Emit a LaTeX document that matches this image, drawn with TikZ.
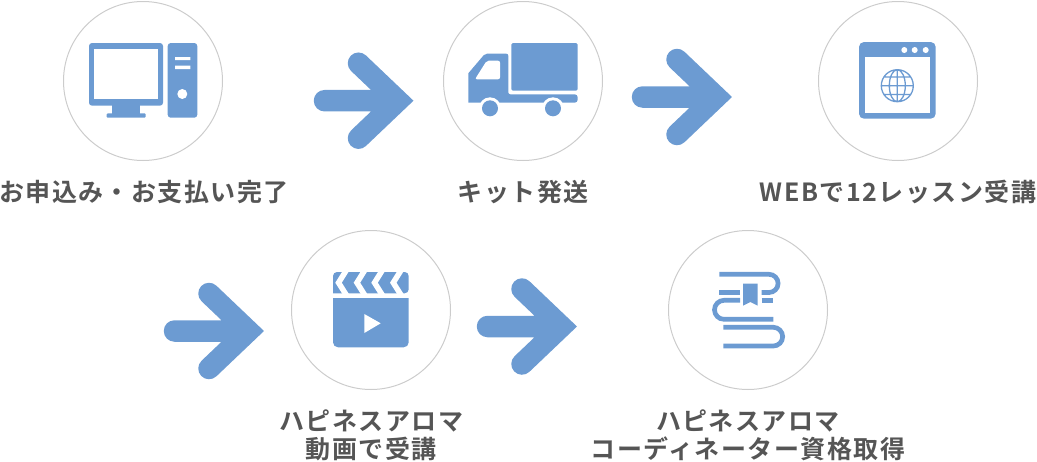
\documentclass[tikz,border=0pt]{standalone}
\usepackage{fontspec}
\usepackage{tikz}
\usetikzlibrary{positioning}
\newfontfamily\jpfont[LetterSpace=6,BoldFont={Noto Sans CJK JP Bold}]{Noto Sans CJK JP}
\definecolor{stepblue}{HTML}{6C9BD2}
\definecolor{steptext}{HTML}{555555}
\begin{document}
\begin{tikzpicture}[x=1pt, y=-1pt, on grid,
            stepcircle/.style={circle, draw=black!20, line width=1pt, minimum size=159pt, inner sep=0pt},
            steplabel/.style={text=steptext, align=center, inner sep=0pt, font=\jpfont\bfseries\fontsize{25}{28}\selectfont},
            bigarrow/.style={draw=stepblue, line width=21.5pt, line cap=round, line join=miter,
                to path={-- ([xshift=-15.6pt]\tikztotarget)
                    ([shift={(-55,-37.5)}]\tikztotarget) -- ([xshift=-15.6pt]\tikztotarget)
                    -- ([shift={(-55,37.5)}]\tikztotarget)}},
            bookline/.style={draw=stepblue, line width=4.7pt}
        ]
          \useasboundingbox (0,0) rectangle (1037,461);
          \node[stepcircle] (c_pc) at (143,81) {};
          \node[stepcircle] (c_truck) [right=380pt of c_pc] {};
          \node[stepcircle] (c_web) [right=375pt of c_truck] {};
          \node[stepcircle] (c_movie) at (371,310) {};
          \node[stepcircle] (c_book) [right=377pt of c_movie] {};
          \node[steplabel] (t_pc) [below=111pt of c_pc, xshift=1pt] {お申込み・お支払い完了};
          \node[steplabel] (t_truck) [below=111pt of c_truck] {キット発送};
          \node[steplabel] (t_web) [below=111pt of c_web] {WEBで12レッスン受講};
          \node[steplabel] (t_movie) [below=125pt of c_movie] {ハピネスアロマ\\動画で受講};
          \node[steplabel] (t_book) [below=125pt of c_book] {ハピネスアロマ\\コーディネーター資格取得};
          % arrows
          \coordinate (a_1s) at (324.5,100.7);
          \coordinate (a_1e) at (413.5,100.7);
          \coordinate (a_2s) at (642.5,97);
          \coordinate (a_2e) at (732,97);
          \coordinate (a_3s) at (174.5,331);
          \coordinate (a_3e) at (264,331);
          \coordinate (a_4s) at (487.5,326.5);
          \coordinate (a_4e) at (577,326.5);
          \draw[bigarrow] (a_1s) to (a_1e);
          \draw[bigarrow] (a_2s) to (a_2e);
          \draw[bigarrow] (a_3s) to (a_3e);
          \draw[bigarrow] (a_4s) to (a_4e);
          % computer
          \fill[stepblue, rounded corners=3pt] (89,43) rectangle (163,105.7);
          \fill[white] (94.3,48.7) rectangle (158.3,98.7);
          \fill[stepblue] (112.3,105) rectangle (140,114);
          \fill[stepblue, rounded corners=1pt] (106.7,113.3) rectangle (145.7,117.7);
          \fill[stepblue, rounded corners=3pt] (167.7,43) rectangle (197.3,117.7);
          \fill[white] (175,57) rectangle (190.3,60) (175,65.7) rectangle (190.3,69);
          \fill[white] (182.3,94) circle (5);
          % truck
          \fill[stepblue, rounded corners=1.5pt] (511.3,43) rectangle (577.7,90.7);
          \fill[stepblue, rounded corners=2pt] (468.3,73.3) -- (485,53.7) -- (508.3,53.7) -- (508.3,94.3)
            [rounded corners=3pt] -- (577.7,94.3) -- (577.7,102.7) [sharp corners] -- (468.3,102.7) -- cycle;
          \fill[white, rounded corners=2pt] (486.7,60.7) -- (500,60.7) -- (500,79.3) -- (475,79.3) -- cycle;
          \foreach \wx in {490,553} {
            \fill[white] (\wx,108.3) circle (11);
            \fill[stepblue] (\wx,108.3) circle (8);
          }
          % browser
          \fill[stepblue, rounded corners=5pt] (859,42) rectangle (935.7,118.7);
          \fill[white] (864.7,57.3) rectangle (930,113);
          \foreach \dx in {904.3,914.7,925.7}
            \fill[white] (\dx,50) circle (3);
          \draw[stepblue, line width=1.3pt] (897.3,85.7) circle (16)
            (897.3,85.7) ellipse (8 and 16)
            (897.3,69.7) -- (897.3,101.7)
            (881.3,85.7) -- (913.3,85.7)
            (884,77) -- (910.6,77) (884,94.4) -- (910.6,94.4);
          % clapper
          \fill[stepblue, rounded corners=4pt] (333,293.3) [sharp corners] -- (333,293.3) [rounded corners=4pt] -- (333,272) -- (408.7,272) -- (408.7,293.3) [sharp corners] -- cycle;
          \foreach \cx in {335.3,353.7,371.3,390}
            \fill[white] (\cx+7,271.5) -- (\cx+13.5,271.5) -- (\cx+6.5,282.7) -- (\cx+13.5,293.8) -- (\cx+7,293.8) -- (\cx,282.7) -- cycle;
          \fill[stepblue, rounded corners=5pt] (333,298) [sharp corners] -- (408.7,298) [rounded corners=5pt] -- (408.7,347.3) -- (333,347.3) [sharp corners] -- (333,298) -- cycle;
          \fill[white] (364.3,314) -- (380.7,323.3) -- (364.3,333) -- cycle;
          % books
          \draw[bookline] (719.3,274.3) -- (769,274.3) arc[start angle=-90, end angle=90, radius=9.1] -- (761.7,292.5);
          \draw[bookline] (719.3,292.5) -- (740,292.5);
          \draw[bookline] (761.7,300.3) -- (773.3,300.3);
          \draw[bookline] (740,300.3) -- (724,300.3) arc[start angle=270, end angle=90, radius=9.5] -- (773.3,319.3);
          \draw[bookline] (723.3,327.3) -- (773.3,327.3) arc[start angle=-90, end angle=90, radius=9.35] -- (723.3,346);
          \fill[stepblue] (743,283.7) -- (757.7,283.7) -- (757.7,305.7) -- (750.3,302) -- (743,305.7) -- cycle;
        \end{tikzpicture}
\end{document}
